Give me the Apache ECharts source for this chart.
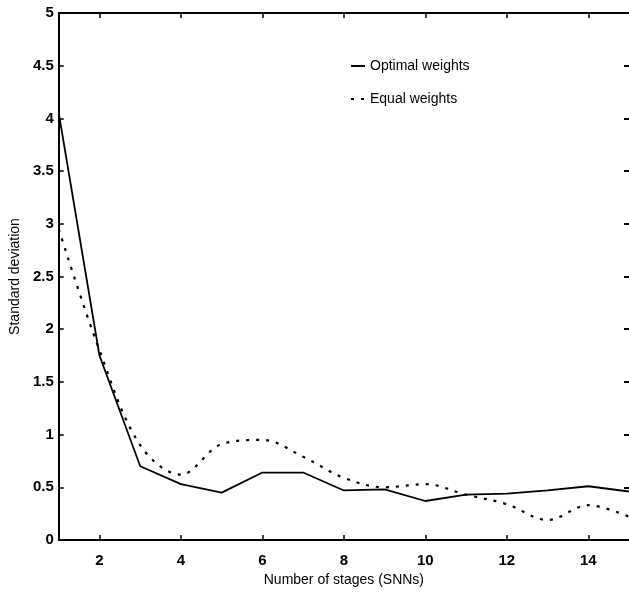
<!DOCTYPE html>
<html>
<head>
<meta charset="utf-8">
<script src="https://cdn.jsdelivr.net/npm/echarts@6/dist/echarts.min.js"></script>
<style>
html,body{margin:0;padding:0;background:#fff;}
#chart{width:629px;height:597px;}
</style>
</head>
<body>
<div id="chart"></div>
<script>
const stages = [1,2,3,4,5,6,7,8,9,10,11,12,13,14,15];
const optimalWeights = [4.05,1.75,0.70,0.53,0.45,0.64,0.64,0.47,0.48,0.37,0.43,0.44,0.47,0.51,0.46];
const equalWeights = [2.95,1.8,0.9,0.62,0.91,0.95,0.79,0.59,0.50,0.53,0.43,0.34,0.19,0.33,0.22];
const xTicks = [2,4,6,8,10,12,14];
const seriesNames = ['Optimal weights','Equal weights'];

const font = 'Liberation Sans, Arial, Helvetica, sans-serif';
const chart = echarts.init(document.getElementById('chart'), null, {renderer:'canvas'});
const axisLineStyle = {color:'#000', width:2};
chart.setOption({
  backgroundColor:'#fff',
  animation:false,
  textStyle:{fontFamily:font, color:'#000'},
  grid:{left:56, top:13, width:575, height:527},
  legend:{
    orient:'vertical', left:345, top:54, itemGap:19,
    itemWidth:14, itemHeight:10,
    itemStyle:{opacity:0},
    textStyle:{fontFamily:font, fontSize:14, color:'#000'},
    data:seriesNames
  },
  xAxis:[{
    type:'value', min:1, max:15,
    name:'Number of stages (SNNs)', nameLocation:'middle', nameGap:33,
    nameTextStyle:{fontFamily:font, fontSize:14, color:'#000'},
    axisLine:{show:true, lineStyle:axisLineStyle},
    axisTick:{show:true, inside:true, length:5, customValues:xTicks, lineStyle:{color:'#000', width:1.5}},
    axisLabel:{customValues:xTicks, margin:13, fontFamily:font, fontSize:15, color:'#000', fontWeight:'bold'},
    splitLine:{show:false}
  },{
    type:'value', min:1, max:15, position:'top',
    axisLine:{show:true, onZero:false, lineStyle:axisLineStyle},
    axisTick:{show:true, inside:true, length:5, customValues:xTicks, lineStyle:{color:'#000', width:1.5}},
    axisLabel:{show:false},
    splitLine:{show:false}
  }],
  yAxis:[{
    type:'value', min:0, max:5, interval:0.5,
    name:'Standard deviation', nameLocation:'middle', nameGap:33,
    nameTextStyle:{fontFamily:font, fontSize:14, color:'#000'},
    axisLine:{show:true, lineStyle:axisLineStyle},
    axisTick:{show:true, inside:true, length:5, lineStyle:{color:'#000', width:1.5}},
    axisLabel:{margin:5, fontFamily:font, fontSize:15, color:'#000', fontWeight:'bold'},
    splitLine:{show:false}
  },{
    type:'value', min:0, max:5, interval:0.5, position:'right',
    axisLine:{show:false, onZero:false, lineStyle:axisLineStyle},
    axisTick:{show:true, inside:true, length:5, lineStyle:{color:'#000', width:2}},
    axisLabel:{show:false},
    splitLine:{show:false}
  }],
  series:[{
    name:seriesNames[0], type:'line', xAxisIndex:0, yAxisIndex:0,
    data:stages.map((s,i)=>[s, optimalWeights[i]]),
    showSymbol:false, symbol:'none',
    lineStyle:{color:'#000', width:1.8, type:'solid'},
    itemStyle:{color:'#000'}
  },{
    name:seriesNames[1], type:'line', xAxisIndex:0, yAxisIndex:0,
    data:stages.map((s,i)=>[s, equalWeights[i]]),
    showSymbol:false, symbol:'none', smooth:0.35,
    lineStyle:{color:'#000', width:2.2, type:[3,7]},
    itemStyle:{color:'#000'}
  }]
});
</script>
</body>
</html>
